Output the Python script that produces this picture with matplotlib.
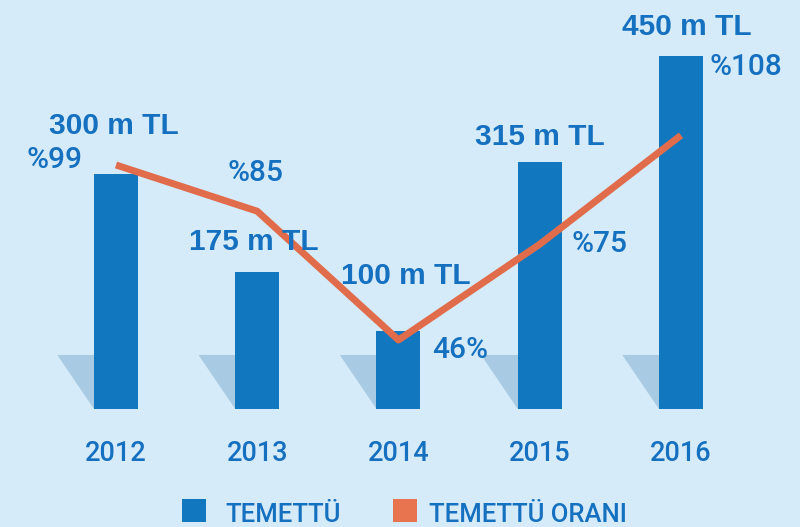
import matplotlib.pyplot as plt
from matplotlib.patches import Polygon, Rectangle

years = ['2012', '2013', '2014', '2015', '2016']
temettu = [300, 175, 100, 315, 450]          # milyon TL
oran = [99, 85, 46, 75, 108]                 # %
temettu_labels = ['300 m TL', '175 m TL', '100 m TL', '315 m TL', '450 m TL']
oran_labels = ['%99', '%85', '46%', '%75', '%108']

bg = '#d5ebf9'
bar_col = '#1177bf'
shadow_col = '#a8cbe3'
line_col = '#e06c4b'
txt_col = '#1570c0'
reg_font = ['Roboto', 'Liberation Sans']

# label offsets (pixels) from bar top / line point
bar_off = [(-2, 40), (-3, 22), (7, 47), (0, 17), (6, 21)]
pct_off = [(-61, -3), (-2, 30), (62, -18), (60, -8), (65, 60)]

fig = plt.figure(figsize=(8, 5.27), dpi=100, facecolor=bg)
ax = fig.add_axes([0, 118 / 527, 1, 409 / 527])
ax.set_facecolor(bg)
ax.set_xlim(-0.8212, 4.8425)
ax.set_ylim(0, 522.1)

x = list(range(len(years)))
w = 0.3115
for i in x:
    xl, xr = i - w / 2, i + w / 2
    ax.add_patch(Polygon([(xl, 0), (xr, 0), (xr - 0.26, 69), (xl - 0.26, 69)],
                         closed=True, color=shadow_col, lw=0, zorder=1))
ax.bar(x, temettu, width=w, color=bar_col, zorder=2)

ax.set_xticks(x)
ax.set_xticklabels(years, fontsize=19.5, color=txt_col, family=reg_font,
                   fontweight='medium')
ax.tick_params(axis='x', length=0, pad=22)
ax.set_yticks([])
for s in ax.spines.values():
    s.set_visible(False)

ax2 = ax.twinx()
ax2.set_ylim(25.1, 148.97)
ax2.set_yticks([])
for s in ax2.spines.values():
    s.set_visible(False)
ax2.plot(x, oran, color=line_col, lw=5, solid_joinstyle='round',
         solid_capstyle='butt', zorder=2)

for i in x:
    ax2.annotate(temettu_labels[i], (i, temettu[i]), xycoords=ax.transData,
                 xytext=bar_off[i], textcoords='offset pixels',
                 ha='center', va='baseline', fontsize=21.5, fontweight='bold',
                 color=txt_col, family='Liberation Sans', zorder=5)
    ax2.annotate(oran_labels[i], (i, oran[i]), xytext=pct_off[i],
                 textcoords='offset pixels', ha='center', va='baseline',
                 fontsize=21.5, color=txt_col, fontweight='medium',
                 family=reg_font, zorder=5)

# legend
W, H = 800, 527
items = [(182, 'TEMETTÜ', bar_col, 225), (393, 'TEMETTÜ ORANI', '#e8734f', 429)]
for sx, lab, c, tx in items:
    fig.patches.append(Rectangle((sx / W, (H - 522) / H), 24 / W, 23 / H,
                                 transform=fig.transFigure, color=c, lw=0))
    fig.text(tx / W, (H - 522) / H, lab, fontsize=18.5, color=txt_col,
             va='baseline', ha='left', fontweight='medium', family=reg_font)

fig.savefig('out.png', dpi=100, facecolor=bg)
